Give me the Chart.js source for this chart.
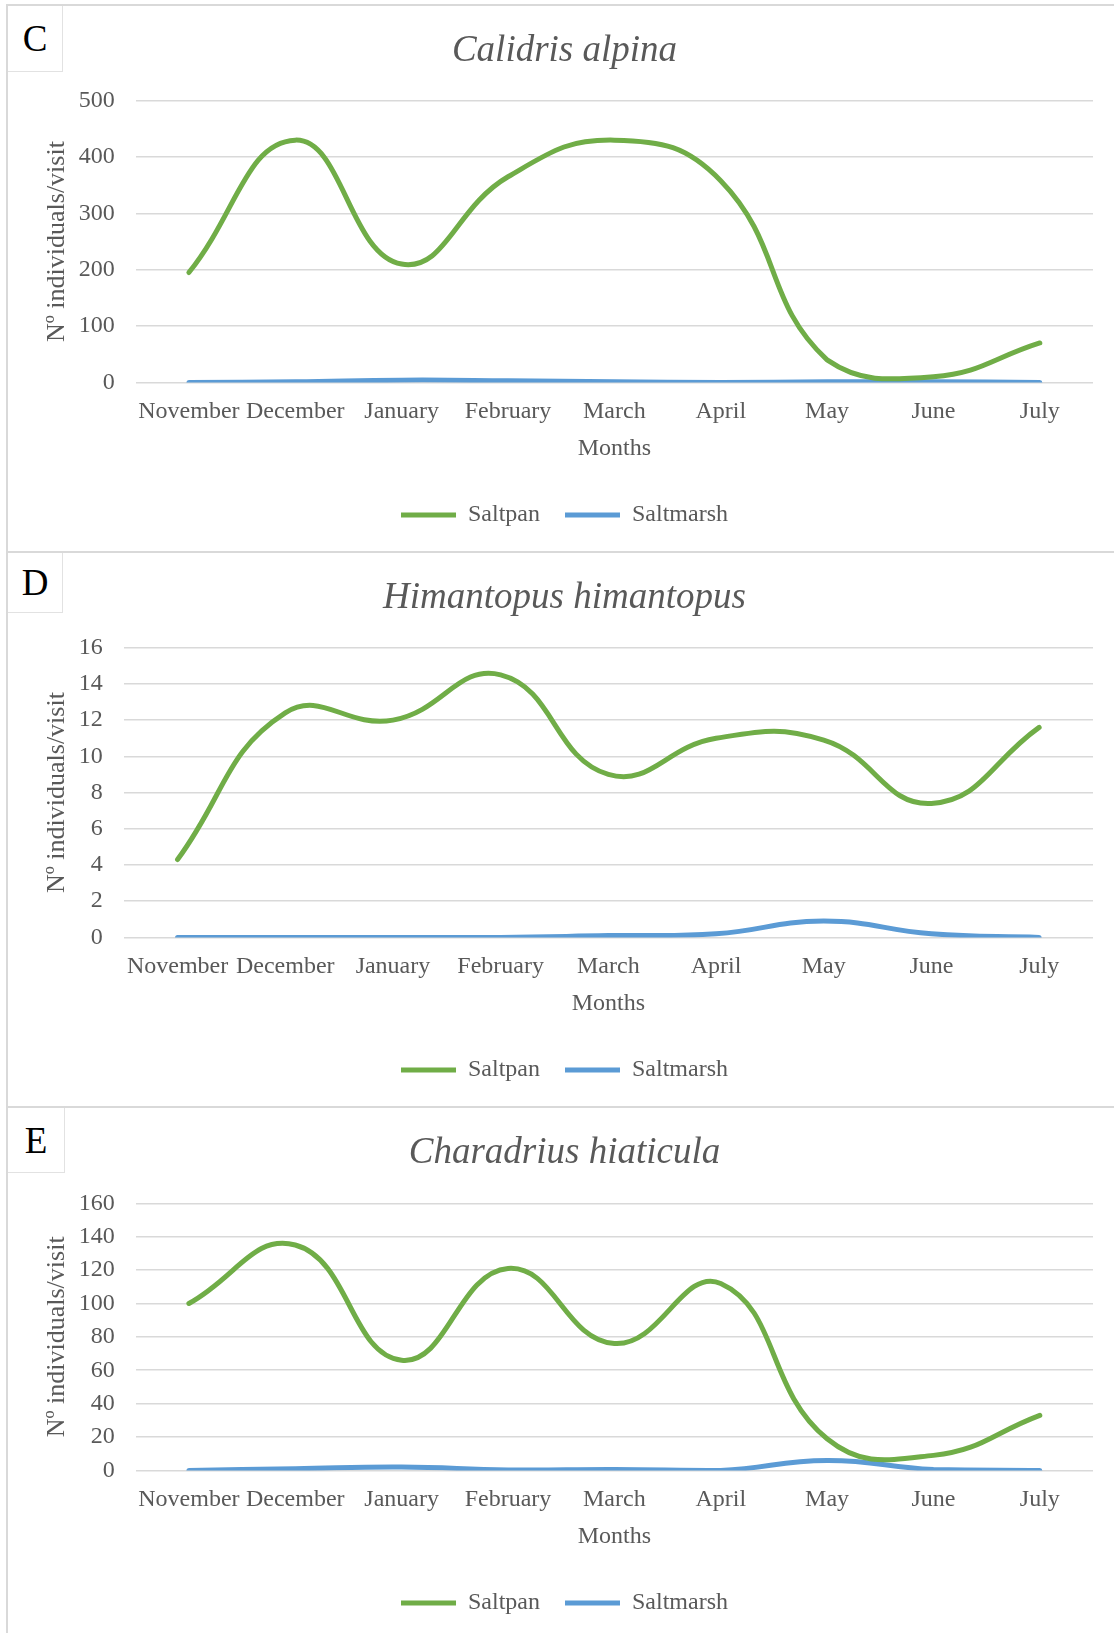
<!DOCTYPE html>
<html>
<head>
<meta charset="utf-8">
<script src="https://cdn.jsdelivr.net/npm/chart.js@4.4.1/dist/chart.umd.min.js"></script>
<style>
  body { margin: 0; width: 1114px; height: 1633px; overflow: hidden; background: #fff; position: relative; font-family: "Liberation Serif", "Times New Roman", serif; }
  .frame { position: absolute; left: 6px; width: 1112px; border-top: 2px solid #d9d9d9; border-left: 2px solid #d9d9d9; box-sizing: border-box; }
  .wrap { position: absolute; left: 8px; width: 1106px; }
  .tag { position: absolute; left: 8px; width: 54px; background: #fff; border-right: 1px solid #e2e2e2; border-bottom: 1px solid #e2e2e2;
         font-size: 37px; color: #000; display: flex; align-items: center; justify-content: center; }
</style>
</head>
<body>
<div class="frame" style="top:4px;height:1700px"></div>
<div class="frame" style="top:551px;height:1200px"></div>
<div class="frame" style="top:1106px;height:600px"></div>

<div class="wrap" style="top:6px;height:546px"><canvas id="chartC" width="1106" height="546"></canvas></div>
<div class="wrap" style="top:553px;height:554px"><canvas id="chartD" width="1106" height="554"></canvas></div>
<div class="wrap" style="top:1108px;height:532px"><canvas id="chartE" width="1106" height="532"></canvas></div>

<div class="tag" style="top:6px;height:65px">C</div>
<div class="tag" style="top:553px;height:59px">D</div>
<div class="tag" style="top:1108px;height:64px;width:56px">E</div>

<script>
const months = ["November", "December", "January", "February", "March", "April", "May", "June", "July"];

// C - Calidris alpina
const calidrisSaltpan = [195, 430, 210, 365, 430, 358, 40, 10, 70];
const calidrisSaltmarsh = [0, 1, 4, 3, 1, 0, 1, 1, 0];
const calidrisTicks = [0, 100, 200, 300, 400, 500];

// D - Himantopus himantopus
const himantopusSaltpan = [4.3, 12.4, 12, 14.5, 9, 11, 10.9, 7.4, 11.6];
const himantopusSaltmarsh = [0, 0, 0, 0, 0.1, 0.2, 0.9, 0.2, 0];
const himantopusTicks = [0, 2, 4, 6, 8, 10, 12, 14, 16];

// E - Charadrius hiaticula
const charadriusSaltpan = [100, 135, 66, 121, 76, 112, 19, 9, 33];
const charadriusSaltmarsh = [0, 1, 2, 0.3, 0.5, 0, 6, 0.5, 0];
const charadriusTicks = [0, 20, 40, 60, 80, 100, 120, 140, 160];

const seriesNames = ["Saltpan", "Saltmarsh"];
const seriesColors = ["#70AD47", "#5B9BD5"];

Chart.defaults.font.family = "'Liberation Serif', 'Times New Roman', serif";
Chart.defaults.color = "#595959";

function drawPanel(id, title, saltpan, saltmarsh, ticks, titlePad) {
  const ctx = document.getElementById(id);
  return new Chart(ctx, {
    type: "line",
    data: {
      labels: months,
      datasets: [saltpan, saltmarsh].map((vals, i) => ({
        label: seriesNames[i],
        data: vals,
        borderColor: seriesColors[i],
        backgroundColor: seriesColors[i],
        borderWidth: 5,
        borderCapStyle: "round",
        tension: 0.45,
        pointRadius: 0,
        fill: false,
      })),
    },
    options: {
      responsive: false,
      animation: false,
      devicePixelRatio: 1,
      layout: { padding: { top: 0, left: 28, right: 21, bottom: 15 } },
      plugins: {
        title: {
          display: true,
          text: title,
          color: "#595959",
          font: { size: 37, style: "italic", weight: "normal" },
          padding: titlePad,
        },
        legend: {
          position: "bottom",
          labels: {
            usePointStyle: true,
            pointStyle: "line",
            pointStyleWidth: 55,
            padding: 25,
            color: "#595959",
            font: { size: 24 },
          },
        },
        tooltip: { enabled: false },
      },
      scales: {
        x: {
          offset: true,
          grid: { display: false, drawTicks: false },
          border: { display: false },
          ticks: { autoSkip: false, maxRotation: 0, padding: 15, font: { size: 24 }, color: "#595959" },
          title: { display: true, text: "Months", font: { size: 24 }, color: "#595959", padding: { top: -7, bottom: 15 } },
        },
        y: {
          min: ticks[0],
          max: ticks[ticks.length - 1],
          ticks: { stepSize: ticks[1] - ticks[0], autoSkip: false, padding: 21, font: { size: 24 }, color: "#595959" },
          grid: { color: "#d9d9d9", lineWidth: 1.6, drawTicks: false },
          border: { display: false },
          title: { display: true, text: "Nº individuals/visit", font: { size: 26 }, color: "#595959", padding: { top: 5.4, bottom: -14.9 } },
        },
      },
    },
  });
}

drawPanel("chartC", "Calidris alpina", calidrisSaltpan, calidrisSaltmarsh, calidrisTicks, { top: 22.8, bottom: 27.5 });
drawPanel("chartD", "Himantopus himantopus", himantopusSaltpan, himantopusSaltmarsh, himantopusTicks, { top: 23.3, bottom: 27 });
drawPanel("chartE", "Charadrius hiaticula", charadriusSaltpan, charadriusSaltmarsh, charadriusTicks, { top: 22.8, bottom: 28.1 });
</script>
</body>
</html>
